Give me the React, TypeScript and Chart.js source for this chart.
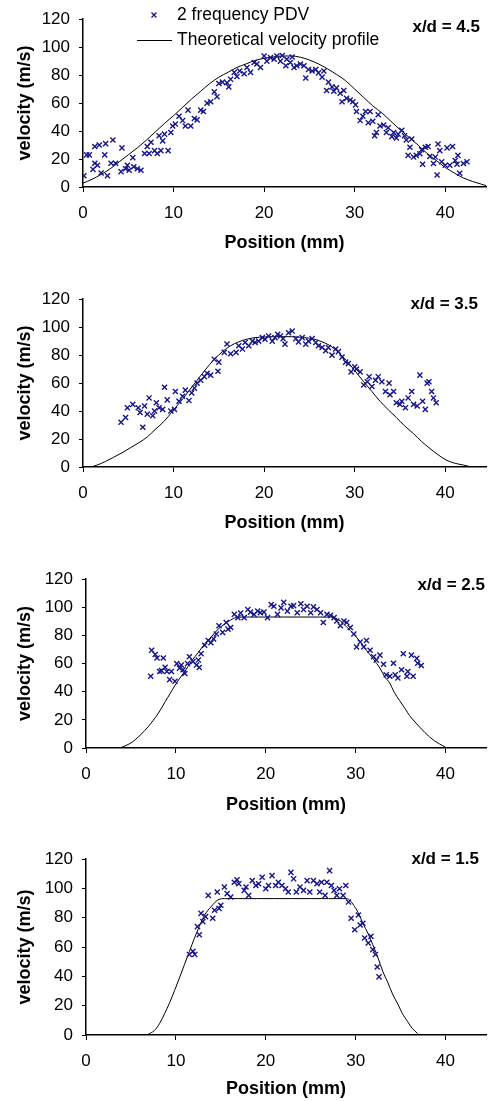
import { useEffect, useRef } from "react";
import { Chart, registerables } from "chart.js";

Chart.register(...registerables);

// ---------- data ----------
const xTicks = [0, 10, 20, 30, 40];
const yTicks = [0, 20, 40, 60, 80, 100, 120];
const panelLabels = ["x/d = 4.5", "x/d = 3.5", "x/d = 2.5", "x/d = 1.5"];
const seriesNames = ["2 frequency PDV", "Theoretical velocity profile"];

const pdv45: [number, number][] = [
  [0.1, 8], [0.4, 23], [0.7, 23], [1.3, 17], [1.1, 12.6], [1.3, 29], [1.8, 30], [2.5, 31], [1.6, 15.6], [2.0, 10],
  [2.4, 23], [2.7, 8], [3.3, 33.6], [3.1, 17], [3.6, 17], [4.2, 11], [4.3, 28], [4.7, 13], [4.9, 15.6], [5.1, 12],
  [5.5, 21], [5.6, 14.5], [6.0, 13], [6.4, 12], [6.8, 24], [7.1, 29], [7.5, 32], [7.3, 24], [7.9, 26], [8.2, 24],
  [8.6, 26], [8.4, 36.6], [8.8, 33], [9.0, 37.8], [9.4, 26], [9.7, 39], [9.9, 43.6], [10.2, 45], [10.6, 50.6], [11.0, 47.5],
  [11.3, 43.6], [11.6, 55], [11.9, 43.6], [12.3, 49], [12.6, 48], [13.0, 55], [13.3, 54], [13.7, 60], [14.1, 61], [14.5, 68],
  [14.8, 64.6], [15.0, 74], [15.4, 75], [15.9, 74.6], [16.1, 71.6], [16.3, 77], [16.7, 82], [17.0, 79], [17.3, 83], [17.8, 81],
  [18.1, 85.5], [18.5, 82], [18.9, 89], [19.2, 88], [19.6, 85.5], [20.0, 93.7], [20.3, 90], [20.7, 92.5], [21.1, 91.4], [21.4, 93.7],
  [21.8, 90], [22.0, 94], [22.4, 86.7], [22.5, 91.4], [22.9, 89], [23.1, 93], [23.3, 85.5], [23.6, 86.7], [24.0, 88], [24.4, 86.7],
  [24.6, 78], [24.9, 84], [25.3, 83], [25.7, 84], [26.0, 81.6], [26.4, 78.6], [26.6, 83], [26.9, 69], [27.1, 75], [27.5, 71.6],
  [27.7, 68.5], [28.0, 70.9], [28.4, 67], [28.6, 61], [28.8, 69], [29.1, 63.4], [29.5, 62.2], [29.8, 61], [30.1, 58.7], [30.2, 54],
  [30.6, 47.5], [30.9, 50.6], [31.2, 54], [31.5, 46], [31.7, 54], [32.0, 47], [32.2, 36.6], [32.4, 39], [32.6, 51.7], [32.8, 43.6],
  [33.2, 44.3], [33.5, 39], [33.7, 42.4], [34.1, 36], [34.3, 39], [34.6, 35], [34.8, 37.8], [35.2, 40.6], [35.5, 36.6], [35.7, 33.6],
  [36.1, 28.4], [36.3, 34.3], [35.9, 22.6], [36.5, 21.4], [36.8, 22.6], [37.2, 23.8], [37.4, 26.6], [37.5, 16.3], [37.8, 28.4], [38.1, 29],
  [38.3, 21.9], [38.7, 16.8], [38.9, 21.4], [39.1, 8.6], [39.2, 30.8], [39.4, 26], [39.6, 18], [40.0, 15.6], [40.2, 28], [40.5, 15.6],
  [40.8, 29], [41.1, 19], [41.4, 22.6], [41.6, 9.8], [41.3, 16.3], [42.0, 16.8], [42.4, 18],
];

const theory45: [number, number][] = [
  [0, 2.8], [1, 5.5], [2, 9], [3, 13], [4, 18], [5, 23], [6, 28], [7, 33.5], [8, 39.5], [9, 45.5],
  [10, 51], [11, 57], [12, 63], [13, 68.5], [14, 74], [15, 78.5], [16, 82], [17, 85.5], [18, 88], [19, 90.5],
  [20, 92], [21, 93], [22, 93.7], [23, 93.7], [24, 92.8], [25, 90.8], [26, 88], [27, 84.5], [28, 80.5], [29, 76],
  [30, 70], [31, 64], [32, 58], [33, 53], [34, 47], [35, 41], [36, 35.5], [37, 30], [38, 24], [39, 19],
  [40, 14], [41, 10], [42, 6.5], [43, 4], [44, 2], [44.5, 1],
];

const pdv35: [number, number][] = [
  [4.2, 32], [4.7, 35.4], [4.9, 42.4], [5.5, 44.8], [6.1, 42.4], [6.3, 39], [6.6, 28.4], [6.8, 43.6], [7.1, 37.8], [7.3, 49.4],
  [7.7, 36.6], [7.9, 40], [8.1, 46], [8.4, 42.4], [8.8, 41.2], [9.0, 57], [9.3, 48], [9.7, 40], [10.1, 41.2], [10.2, 54],
  [10.6, 47], [11.0, 50.6], [11.3, 55], [11.7, 47.5], [12.0, 53], [12.3, 56.4], [12.6, 60], [13.0, 62], [13.4, 64.6], [13.7, 67],
  [14.1, 65.7], [14.5, 77], [14.9, 68.5], [15.0, 75], [15.6, 82], [15.9, 88], [16.3, 81], [16.9, 82], [17.2, 86.7], [17.6, 84.4],
  [17.9, 89], [18.3, 86.7], [18.7, 90], [19.0, 89], [19.4, 90], [19.8, 92.5], [20.1, 91.4], [20.5, 93.7], [20.9, 90], [21.2, 92.5],
  [21.5, 94.9], [21.8, 93.7], [22.1, 91.8], [22.3, 87.9], [22.7, 96], [23.1, 97.2], [23.5, 91.8], [23.8, 89.5], [24.2, 92.5], [24.6, 87.9],
  [24.9, 90], [25.3, 91.8], [25.7, 89], [26.0, 86.7], [26.4, 85.5], [26.8, 83.2], [27.1, 85.5], [27.5, 80], [27.9, 84.4], [28.2, 82.5],
  [28.6, 78.6], [29.0, 75], [29.3, 73.9], [29.6, 68], [30.0, 71.6], [30.2, 70], [30.6, 68], [31.0, 58.7], [31.4, 61], [31.6, 64.6],
  [31.9, 57.6], [32.3, 62], [32.6, 64.6], [33.0, 61], [33.4, 54], [33.8, 60], [33.9, 51.7], [34.3, 54], [34.6, 46], [35.0, 44.8],
  [35.2, 47], [35.6, 42.4], [35.9, 49.4], [36.3, 54], [36.5, 44.8], [36.9, 43.6], [37.2, 65.7], [37.5, 47], [37.8, 41.2], [38.0, 60],
  [38.2, 61], [38.5, 54], [38.7, 49.4], [39.0, 46],
];

const theory35: [number, number][] = [
  [0.9, 0], [1.6, 1.5], [2.5, 4], [3.4, 7], [4.4, 10.5], [5.3, 14], [6.2, 17.5], [7.1, 21.5], [8.0, 27], [9.0, 33],
  [9.9, 40], [10.8, 47], [11.7, 54.5], [12.6, 62], [13.5, 69.5], [14.5, 77], [15.4, 82.5], [16.3, 86.7], [17.2, 89.5], [18.1, 91.4],
  [19, 92.5], [20, 93], [21, 93.2], [22, 93.2], [23, 93.2], [23.6, 93], [24.5, 92.5], [25.5, 91.5], [26.4, 89.5], [27.3, 86.7],
  [28.2, 82], [29.1, 76], [30, 69], [31, 61], [31.9, 54], [32.8, 47], [33.7, 41], [34.6, 35.4], [35.5, 29.5], [36.5, 23.8],
  [37.4, 18.2], [38.3, 13.3], [39.2, 8.8], [40.1, 5], [41, 2.8], [42, 1.4], [42.9, 0],
];

const pdv25: [number, number][] = [
  [7.2, 51], [7.3, 69.5], [7.7, 66.5], [7.9, 64], [8.6, 64], [8.2, 54.4], [8.4, 55], [8.8, 57.4], [9.0, 54.4], [9.3, 48.6],
  [9.5, 54.4], [9.9, 47.5], [10.1, 60], [10.4, 56.8], [10.6, 59], [10.8, 55.6], [11.0, 53], [11.3, 60], [11.5, 64.9], [11.9, 61.4],
  [12.3, 59], [12.5, 62.5], [12.6, 57.2], [12.8, 67], [13.2, 73], [13.6, 76.4], [13.9, 74.8], [14.2, 77.6], [14.5, 81], [14.8, 86.9],
  [15.2, 82.2], [15.6, 89.2], [15.8, 84.5], [16.1, 85.7], [16.5, 95], [16.9, 92.7], [17.2, 96], [17.6, 92.7], [18.0, 98.4], [18.3, 96.6],
  [18.7, 95], [19.1, 97.3], [19.4, 96.1], [19.8, 96.6], [20.2, 92.7], [20.6, 101.9], [20.9, 100.8], [21.3, 95], [21.7, 99.6], [22.0, 103.5],
  [22.4, 97.3], [22.8, 100.8], [23.1, 101.2], [23.5, 96.1], [23.9, 102.6], [24.2, 98.4], [24.6, 100.8], [25.0, 96.1], [25.3, 100.3], [25.7, 98.4],
  [26.1, 96.1], [26.4, 89.2], [26.8, 95], [27.2, 94.3], [27.6, 92.7], [27.9, 90.3], [28.3, 86.9], [28.7, 90.3], [29.0, 89.2], [29.4, 85.7],
  [29.8, 81], [30.1, 71.8], [30.5, 75.3], [30.9, 71.8], [31.2, 76.4], [31.6, 69.5], [32.0, 64.9], [32.3, 62.5], [32.7, 66], [33.1, 59.5],
  [33.4, 52], [33.8, 51], [34.2, 60.2], [34.4, 52], [34.7, 49.8], [35.1, 55.6], [35.3, 67], [35.7, 51], [35.8, 54.4], [36.2, 66],
  [36.4, 51], [36.8, 63.7], [36.9, 60.2], [37.3, 58.6],
];

const theory25: [number, number][] = [
  [3.8, 0], [5.1, 4], [6.0, 9], [6.9, 15], [8.0, 24.3], [9.1, 36], [10.2, 47.5], [11.0, 54.5], [11.7, 61.4], [12.5, 68],
  [13.2, 74], [14.0, 79.5], [14.7, 84.5], [15.4, 88], [16.1, 91], [16.9, 93], [18, 93.1], [20, 93.1], [22, 93.1], [24, 93.1],
  [26, 93.1], [27.2, 93.1], [28.3, 90.3], [29.0, 86], [29.8, 81], [30.5, 75.5], [31.2, 69.5], [32.0, 63], [32.7, 56.8], [33.2, 51],
  [33.8, 46], [34.3, 39.5], [34.9, 33.6], [35.5, 28], [36.0, 23], [36.6, 18.5], [37.1, 15], [37.7, 11], [38.2, 8], [38.8, 5],
  [39.3, 3], [40.0, 0.5],
];

const pdv15: [number, number][] = [
  [11.5, 55], [11.9, 57.2], [12.1, 55], [12.4, 74], [12.6, 68.4], [12.8, 83], [13.0, 77.4], [13.3, 80.8], [13.6, 95.3], [14.1, 79.7],
  [14.3, 85.2], [14.6, 97.6], [14.8, 86.3], [15.0, 88.6], [15.4, 101], [15.7, 96.5], [16.1, 94.2], [16.5, 104.3], [16.8, 106], [17.0, 103.2],
  [17.6, 98.7], [17.8, 101], [18.1, 95.3], [18.5, 105.4], [18.9, 102], [19.2, 103.2], [19.6, 107.7], [20.0, 99.8], [20.3, 102], [20.7, 108.8],
  [21.1, 102], [21.4, 104.3], [21.8, 102], [22.2, 99.8], [22.5, 97.6], [22.8, 111], [23.1, 106.6], [23.4, 97.6], [23.8, 101], [24.2, 98.7],
  [24.6, 105.4], [24.9, 97.6], [25.3, 105.4], [25.7, 103.2], [26.0, 97.6], [26.2, 104.3], [26.6, 95.3], [26.8, 104.3], [27.1, 112.2], [27.3, 102],
  [27.6, 98.7], [27.9, 95.3], [28.2, 99.8], [28.6, 95.3], [28.9, 102], [29.2, 90.8], [29.5, 79.7], [29.9, 71.8], [30.3, 81.9], [30.5, 75.1],
  [30.8, 76.3], [31.0, 66.2], [31.4, 62.8], [31.7, 67.3], [31.9, 58.3], [32.2, 55], [32.4, 46.4], [32.6, 39.7],
];

const theory15: [number, number][] = [
  [6.9, 0.5], [7.6, 3], [8.2, 8], [8.75, 14.6], [9.3, 22], [9.85, 30.3], [10.4, 39], [10.96, 48.2], [11.5, 57], [12.06, 66],
  [12.6, 74], [13.2, 81.9], [13.9, 87.5], [14.8, 92.6], [15.4, 93.1], [17, 93.1], [19, 93.1], [21, 93.1], [23, 93.1], [25, 93.1],
  [27, 93.1], [29.0, 93.1], [29.9, 87.5], [30.4, 82], [30.8, 76.3], [31.4, 69], [31.9, 61.7], [32.5, 52.5], [33.0, 43.7], [33.6, 35.5],
  [34.1, 28], [34.7, 21], [35.2, 14.6], [35.8, 9], [36.3, 4.5], [36.9, 1],
];

// ---------- layout / style ----------
const FONT = "'Liberation Sans', Arial, Helvetica, sans-serif";
const MARKER = "#16168c";

type PanelCfg = {
  label: string;
  pdv: [number, number][];
  theory: [number, number][];
  top: number;
  height: number;
  left: number;
  chartTop: number;
  chartBottom: number;
  xTitlePad: number;
  labelX: number;
  labelY: number;
  legend: boolean;
};

const panels: PanelCfg[] = [
  { label: panelLabels[0], pdv: pdv45, theory: theory45, top: 0, height: 280, left: 83, chartTop: 16, chartBottom: 187, xTitlePad: 26, labelX: 480, labelY: 27, legend: true },
  { label: panelLabels[1], pdv: pdv35, theory: theory35, top: 280, height: 280, left: 83, chartTop: 16, chartBottom: 187, xTitlePad: 26, labelX: 478, labelY: 24, legend: false },
  { label: panelLabels[2], pdv: pdv25, theory: theory25, top: 560, height: 280, left: 86, chartTop: 16, chartBottom: 188, xTitlePad: 24, labelX: 485, labelY: 25, legend: false },
  { label: panelLabels[3], pdv: pdv15, theory: theory15, top: 840, height: 261, left: 86, chartTop: 17, chartBottom: 195, xTitlePad: 1, labelX: 479, labelY: 19, legend: false },
];

const overlayPlugin = {
  id: "overlay",
  afterDraw(chart: any, _args: any, opts: any) {
    const ctx: CanvasRenderingContext2D = chart.ctx;
    ctx.save();
    ctx.fillStyle = "#000";
    ctx.font = `bold 17px ${FONT}`;
    ctx.textAlign = "right";
    ctx.textBaseline = "middle";
    ctx.fillText(opts.label, opts.labelX, opts.labelY);
    if (opts.legend) {
      const ds = chart.data.datasets;
      ctx.font = `17.5px ${FONT}`;
      ctx.textAlign = "left";
      // marker glyph
      const mx = 154, my = 15, r = 2.5;
      ctx.strokeStyle = ds[0].borderColor;
      ctx.lineWidth = 1.4;
      ctx.beginPath();
      ctx.moveTo(mx - r, my - r); ctx.lineTo(mx + r, my + r);
      ctx.moveTo(mx + r, my - r); ctx.lineTo(mx - r, my + r);
      ctx.stroke();
      ctx.fillText(ds[0].label, 177, 15);
      // line glyph
      ctx.strokeStyle = ds[1].borderColor;
      ctx.lineWidth = 1;
      ctx.beginPath();
      ctx.moveTo(137, 40.5); ctx.lineTo(172, 40.5);
      ctx.stroke();
      ctx.fillText(ds[1].label, 177, 40);
    }
    ctx.restore();
  },
};

function Panel({ cfg }: { cfg: PanelCfg }) {
  const ref = useRef<HTMLCanvasElement>(null);
  useEffect(() => {
    if (!ref.current) return;
    const tickFont = { family: FONT, size: 17 };
    const titleFont = { family: FONT, size: 18, weight: "bold" as const };
    const chart = new Chart(ref.current, {
      type: "scatter",
      data: {
        datasets: [
          {
            label: seriesNames[0],
            data: cfg.pdv.map(([x, y]) => ({ x, y })),
            pointStyle: "crossRot",
            pointRadius: 3.6,
            pointHoverRadius: 3.6,
            borderColor: MARKER,
            backgroundColor: MARKER,
            pointBorderWidth: 1.4,
            borderWidth: 1.4,
            showLine: false,
          },
          {
            label: seriesNames[1],
            data: cfg.theory.map(([x, y]) => ({ x, y })),
            showLine: true,
            borderColor: "#000",
            borderWidth: 1,
            pointRadius: 0,
            pointHoverRadius: 0,
            cubicInterpolationMode: "monotone",
            fill: false,
          } as any,
        ],
      },
      options: {
        animation: false,
        responsive: false,
        maintainAspectRatio: false,
        events: [],
        layout: { padding: { top: cfg.chartTop, left: 0, right: 0, bottom: 0 } },
        plugins: {
          legend: { display: false },
          tooltip: { enabled: false },
          overlay: { label: cfg.label, labelX: cfg.labelX, labelY: cfg.labelY, legend: cfg.legend },
        } as any,
        scales: {
          x: {
            type: "linear",
            min: 0,
            max: 44.5,
            afterBuildTicks: (s: any) => { s.ticks = xTicks.map((v) => ({ value: v })); },
            afterFit: (s: any) => { s.height = cfg.height - cfg.chartBottom; },
            ticks: { color: "#000", font: tickFont, padding: 11, maxRotation: 0, autoSkip: false, includeBounds: false },
            grid: { display: true, drawOnChartArea: false, drawTicks: true, tickLength: 5, color: "#000", lineWidth: 1 },
            border: { display: true, color: "#000", width: 1.5 },
            title: { display: true, text: "Position (mm)", color: "#000", font: titleFont, padding: { top: 0, bottom: cfg.xTitlePad } },
          },
          y: {
            type: "linear",
            min: 0,
            max: 120,
            afterBuildTicks: (s: any) => { s.ticks = yTicks.map((v) => ({ value: v })); },
            afterFit: (s: any) => { s.width = cfg.left; },
            ticks: { color: "#000", font: tickFont, padding: 9 },
            grid: { display: true, drawOnChartArea: false, drawTicks: true, tickLength: 4, color: "#000", lineWidth: 1 },
            border: { display: true, color: "#000", width: 1.5 },
            title: { display: true, text: "velocity (m/s)", color: "#000", font: titleFont, padding: { top: 14, bottom: 0 } },
          },
        },
      },
      plugins: [overlayPlugin as any],
    });
    return () => chart.destroy();
  }, [cfg]);
  return (
    <canvas
      ref={ref}
      width={491}
      height={cfg.height}
      style={{ position: "absolute", left: 0, top: cfg.top, width: 491, height: cfg.height, display: "block" }}
    />
  );
}

export default function App() {
  return (
    <div style={{ position: "absolute", left: 0, top: 0, width: 491, height: 1101, background: "#fff", overflow: "hidden" }}>
      {panels.map((p) => (
        <Panel key={p.label} cfg={p} />
      ))}
    </div>
  );
}
